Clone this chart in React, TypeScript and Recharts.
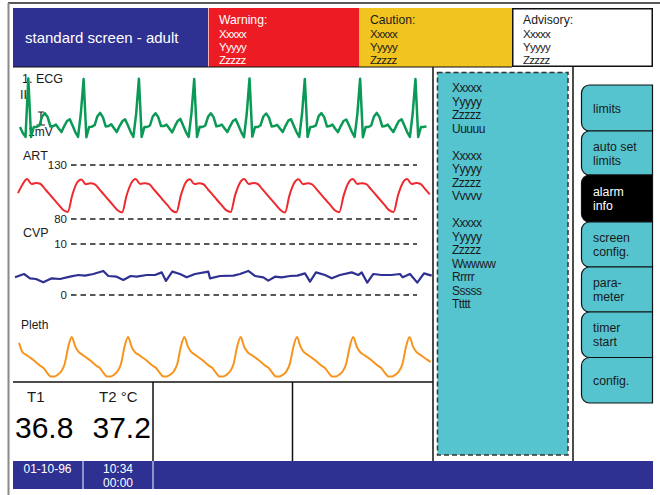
import React from "react";
import { LineChart, Line, XAxis, YAxis, ReferenceLine } from "recharts";

// ─── Waveform samples ─────────────────────────────────────────────────────────

// ECG lead II, mV, one sample every ~2.8 px of sweep
const ecgMillivolts = [
  0.0, -0.2, -0.33,
  1.62, -0.33, 0.0, 0.0, 0.05, 0.35, 0.46, 0.33, 0.02, 0.03, 0.08, -0.05, -0.17, 0.03, 0.2, 0.26, 0.05, -0.17, -0.33, 0.45,
  1.6, -0.34, 0.0, 0.01, 0.06, 0.36, 0.47, 0.32, 0.02, 0.03, 0.09, -0.04, -0.17, 0.03, 0.19, 0.26, 0.06, -0.16, -0.33, 0.44,
  1.61, -0.33, 0.0, 0.0, 0.05, 0.35, 0.46, 0.33, 0.03, 0.03, 0.08, -0.05, -0.18, 0.02, 0.2, 0.27, 0.05, -0.17, -0.33, 0.46,
  1.6, -0.33, 0.01, 0.0, 0.05, 0.34, 0.46, 0.33, 0.02, 0.04, 0.08, -0.05, -0.17, 0.03, 0.2, 0.26, 0.05, -0.17, -0.34, 0.45,
  1.62, -0.32, 0.0, 0.0, 0.06, 0.35, 0.45, 0.32, 0.02, 0.03, 0.07, -0.05, -0.17, 0.03, 0.21, 0.26, 0.04, -0.17, -0.33, 0.45,
  1.6, -0.33, 0.0, 0.01, 0.05, 0.36, 0.46, 0.33, 0.02, 0.03, 0.08, -0.06, -0.17, 0.03, 0.2, 0.25, 0.05, -0.16, -0.33, 0.44,
  1.61, -0.34, 0.0, 0.0, 0.05, 0.35, 0.47, 0.33, 0.02, 0.03, 0.08, -0.05, -0.17, 0.02, 0.2, 0.26, 0.05, -0.17, -0.33, 0.45,
  1.6, -0.33, 0.0, 0.0, 0.02,
];

// Arterial pressure, mmHg
const artMmHg = [
  104, 112,
  117, 112.4, 113.3, 112.4, 107.6, 102.8, 97.9, 93.1, 88.3, 86.5, 102.2, 113.3,
  116.5, 112.2, 113, 112, 107.4, 102.5, 97.7, 92.9, 88.1, 86, 101.8, 113,
  117, 112.5, 113.2, 112.3, 107.5, 102.7, 97.8, 93, 88, 86.2, 102, 113.4,
  116.8, 112.3, 113.1, 112.2, 107.3, 102.6, 97.6, 92.8, 88.2, 86.4, 102.3, 113.2,
  117, 112.4, 113.3, 112.4, 107.6, 102.8, 97.9, 93.1, 88.3, 86, 101.9, 113,
  116.7, 112.2, 113, 112.1, 107.5, 102.6, 97.8, 93, 88.1, 86.3, 102.1, 113.3,
  117, 112.4, 113.2, 112.3, 107.6, 102.8, 97.9, 93.1, 88.2, 86.5, 102.2, 113.2,
  117, 112.4, 113.3, 112.4, 107.6, 102.8,
];
const artTicks = [80, 130];

// Central venous pressure, mmHg, irregular sample times
const cvpTimes = [
  0, 9, 15, 21, 28.3, 36.7, 45, 55, 63.3, 70, 78.3, 88.3, 93.3, 101.7, 108.3,
  115.7, 121.7, 131.7, 140, 146.7, 151, 157.3, 165, 171.7, 180, 193.3, 195, 205,
  218.3, 225, 233.3, 240, 248.3, 253.3, 260, 266.7, 275, 282.3, 290, 295, 301,
  310, 316.7, 325, 336.7, 343.3, 346.7, 352.3, 358.3, 366.7, 376.7, 385, 387.7,
  395, 402.3, 409, 416.7,
];
const cvpMmHg = [
  3.47, 4.12, 3.27, 3.14, 2.48, 3.27, 3.14, 3.59, 3.92, 3.79, 4.12, 4.71, 3.73,
  3.59, 2.94, 3.73, 3.59, 3.92, 3.92, 4.44, 2.75, 4.58, 4.12, 3.46, 4.12, 4.58,
  3.27, 3.73, 3.79, 4.12, 4.71, 3.73, 3.46, 2.81, 3.59, 3.46, 3.73, 3.79, 4.25,
  2.61, 4.44, 3.92, 3.27, 3.92, 4.44, 3.92, 4.44, 2.42, 4.12, 3.92, 3.92, 4.12,
  3.46, 4.12, 2.42, 4.25, 3.79,
];
const cvpTicks = [0, 10];

// Plethysmograph, % of pulse amplitude
const plethPercent = [
  85, 61.4, 55.1, 48.7, 42.4, 34.8, 27.2, 21, 9, 0, 0, 4.3, 12.9, 32.2, 75.4,
  100, 75.4, 61.4, 55.1, 48.7, 42.4, 34.8, 27.2, 21, 9, 0, 0, 4.3, 12.9, 32.2, 75.4,
  100, 75, 61, 55, 48.5, 42.2, 34.6, 27, 20.8, 9, 0, 0, 4.5, 13, 32, 75,
  100, 75.4, 61.4, 55.1, 48.7, 42.4, 34.8, 27.2, 21, 9, 0, 0, 4.3, 12.9, 32.2, 75.4,
  100, 75.2, 61.2, 55, 48.6, 42.3, 34.7, 27.1, 21, 9.2, 0, 0, 4.2, 12.8, 32.4, 75.5,
  100, 75.4, 61.4, 55.1, 48.7, 42.4, 34.8, 27.2, 21, 9, 0, 0, 4.3, 12.9, 32.2, 75.4,
  100, 75.3, 61.3, 55, 48.6, 42.4, 34.8, 27.2, 21, 9, 0, 0, 4.4, 13, 32.3, 75.2,
  100, 75.4, 61.4, 55.1, 48.7, 42.4, 36.5,
];

// ─── Screen texts ─────────────────────────────────────────────────────────────

const alarmTitles = ["Warning:", "Caution:", "Advisory:"];
const alarmLines = ["Xxxxx", "Yyyyy", "Zzzzz"];
const infoLines = [
  "Xxxxx", "Yyyyy", "Zzzzz", "Uuuuu", "",
  "Xxxxx", "Yyyyy", "Zzzzz", "Vvvvv", "",
  "Xxxxx", "Yyyyy", "Zzzzz", "Wwwww", "Rrrrr", "Sssss", "Ttttt",
];
const menuLabels = [
  ["limits"],
  ["auto set", "limits"],
  ["alarm", "info"],
  ["screen", "config."],
  ["para-", "meter"],
  ["timer", "start"],
  ["config."],
];
const tempLabels = ["T1", "T2 °C"];
const tempValues = ["36.8", "37.2"];

// ─── Colours & layout ─────────────────────────────────────────────────────────

const FONT = '"Liberation Sans", Arial, Helvetica, sans-serif';
const NAVY = "#2e3192";
const RED = "#ed1c24";
const YELLOW = "#f2c420";
const CYAN = "#55c4cf";
const INK = "#1a1a1a";

const ALARM_BOXES = [
  { x: 208, w: 151, fill: RED, ink: "#fff" },
  { x: 359, w: 153, fill: YELLOW, ink: INK },
  { x: 512, w: 141, fill: "#fff", ink: INK },
];
const TAB_TOPS = [85, 131, 175, 222, 267, 312, 357.5, 403];
const ACTIVE_TAB = 2;

type Box = { x: number; y: number; w: number; h: number };
const PAD = 6;

function Wave({
  box,
  data,
  xKey,
  xDomain,
  yDomain,
  color,
  strokeWidth,
  curve,
}: {
  box: Box;
  data: { [k: string]: number }[];
  xKey: string;
  xDomain: [number, number];
  yDomain: [number, number];
  color: string;
  strokeWidth: number;
  curve: "linear" | "monotone";
}) {
  return (
    <div style={{ position: "absolute", left: box.x - PAD, top: box.y - PAD }}>
      <LineChart
        width={box.w + PAD * 2}
        height={box.h + PAD * 2}
        data={data}
        margin={{ top: PAD, right: PAD, bottom: PAD, left: PAD }}
      >
        <XAxis dataKey={xKey} type="number" domain={xDomain} hide />
        <YAxis type="number" domain={yDomain} hide />
        <Line
          type={curve}
          dataKey="v"
          stroke={color}
          strokeWidth={strokeWidth}
          strokeLinejoin="round"
          dot={false}
          isAnimationActive={false}
        />
      </LineChart>
    </div>
  );
}

// dashed limit lines with their numbers, drawn by the y axis
function Scale({ box, ticks }: { box: Box; ticks: number[] }) {
  const axisW = 40;
  return (
    <div style={{ position: "absolute", left: box.x - axisW, top: box.y - PAD }}>
      <LineChart
        width={axisW + box.w + PAD}
        height={box.h + PAD * 2}
        data={ticks.map((t) => ({ t }))}
        margin={{ top: PAD, right: PAD, bottom: PAD, left: 0 }}
      >
        <XAxis dataKey="t" hide />
        <YAxis
          type="number"
          width={axisW}
          domain={[ticks[0], ticks[ticks.length - 1]]}
          ticks={ticks}
          allowDataOverflow
          axisLine={false}
          tickLine={false}
          tickSize={0}
          tickMargin={4}
          tick={{ fill: INK, fontSize: 11.5, fontFamily: FONT }}
        />
        {ticks.map((t) => (
          <ReferenceLine
            key={t}
            y={t}
            stroke="#222"
            strokeWidth={1.5}
            strokeDasharray="5.5 4"
          />
        ))}
      </LineChart>
    </div>
  );
}

function tabPath(x: number, y: number, x2: number, h: number, r: number) {
  return `M${x + r},${y} H${x2} V${y + h} H${x + r} A${r},${r} 0 0 1 ${x},${y + h - r} V${y + r} A${r},${r} 0 0 1 ${x + r},${y} Z`;
}

export default function App() {
  const ecgData = ecgMillivolts.map((v, i) => ({ i, v }));
  const artData = artMmHg.map((v, i) => ({ i, v }));
  const cvpData = cvpTimes.map((t, k) => ({ t, v: cvpMmHg[k] }));
  const plethData = plethPercent.map((v, i) => ({ i, v }));

  return (
    <div
      style={{
        position: "absolute",
        left: 0,
        top: 0,
        width: 660,
        height: 495,
        background: "#fff",
        overflow: "hidden",
        fontFamily: FONT,
      }}
    >
      <svg width={660} height={495} style={{ position: "absolute", left: 0, top: 0 }} fontFamily={FONT}>
        {/* outer frame */}
        <line x1={8} y1={3} x2={660} y2={3} stroke="#222" strokeWidth={1.5} />
        <line x1={8.5} y1={3} x2={8.5} y2={495} stroke="#8a8a8a" strokeWidth={2} />

        {/* header */}
        <rect x={13} y={8} width={195} height={59} fill={NAVY} />
        <text x={25} y={43} fontSize={15} fill="#fff">standard screen - adult</text>
        {ALARM_BOXES.map((b, k) => (
          <g key={k}>
            <rect
              x={b.fill === "#fff" ? b.x + 0.75 : b.x}
              y={b.fill === "#fff" ? 8.75 : 8}
              width={b.fill === "#fff" ? b.w - 1.5 : b.w}
              height={b.fill === "#fff" ? 57.5 : 59}
              fill={b.fill}
              stroke={b.fill === "#fff" ? "#111" : "none"}
              strokeWidth={1.5}
            />
            <text x={b.x + 11} y={24} fontSize={12.2} fill={b.ink}>{alarmTitles[k]}</text>
            {alarmLines.map((s, j) => (
              <text key={j} x={b.x + 11} y={38 + j * 12.8} fontSize={11.5} letterSpacing={-0.7} fill={b.ink}>
                {s}
              </text>
            ))}
          </g>
        ))}
        <line x1={208.5} y1={8} x2={208.5} y2={67} stroke="#f6b0b0" strokeWidth={1} />
        <line x1={13} y1={67} x2={512} y2={67} stroke="#111" strokeWidth={1} />

        {/* panel borders */}
        <line x1={433} y1={67} x2={433} y2={461} stroke="#111" strokeWidth={1.5} />
        <line x1={573} y1={67} x2={573} y2={461} stroke="#111" strokeWidth={1.5} />
        <line x1={13} y1={382} x2={433} y2={382} stroke="#111" strokeWidth={1.5} />
        <line x1={153} y1={382} x2={153} y2={461} stroke="#111" strokeWidth={1.5} />
        <line x1={292.5} y1={382} x2={292.5} y2={461} stroke="#111" strokeWidth={1.5} />

        {/* alarm info panel */}
        <rect x={437.5} y={72.5} width={130.5} height={382.5} fill={CYAN} stroke="#333" strokeWidth={1.5} strokeDasharray="5 3" />
        {infoLines.map((s, n) =>
          s ? (
            <text key={n} x={452} y={92 + n * 13.5} fontSize={12} letterSpacing={-0.5} fill={INK}>
              {s}
            </text>
          ) : null,
        )}

        {/* menu tabs */}
        {menuLabels.map((lines, k) => {
          const top = TAB_TOPS[k];
          const h = TAB_TOPS[k + 1] - top;
          const mid = top + h / 2 + 4.5;
          const active = k === ACTIVE_TAB;
          return (
            <g key={k}>
              <path d={tabPath(581.5, top, 652.5, h, 8)} fill={active ? "#000" : CYAN} stroke="#111" strokeWidth={1.2} />
              {lines.map((s, j) => (
                <text
                  key={j}
                  x={593}
                  y={mid + (j - (lines.length - 1) / 2) * 14}
                  fontSize={12.3}
                  fill={active ? "#fff" : INK}
                >
                  {s}
                </text>
              ))}
            </g>
          );
        })}

        {/* waveform labels */}
        <text x={22} y={83.3} fontSize={12.5} fill={INK}>1. ECG</text>
        <text x={20} y={99.3} fontSize={12.5} fill={INK}>II</text>
        <text x={28} y={136} fontSize={12} fill={INK}>1mV</text>
        <path d="M38,112 H44 M41,112 V125 M36.5,125 H45" stroke="#222" strokeWidth={1.2} fill="none" />
        <text x={23} y={160} fontSize={12.5} fill={INK}>ART</text>
        <text x={23} y={237.3} fontSize={12.5} fill={INK}>CVP</text>
        <text x={21} y={329.3} fontSize={12} fill={INK}>Pleth</text>

        {/* temperatures */}
        {tempLabels.map((s, k) => (
          <text key={s} x={k === 0 ? 27 : 99} y={402} fontSize={15} fill={INK}>{s}</text>
        ))}
        {tempValues.map((s, k) => (
          <text key={s} x={k === 0 ? 15 : 92.5} y={438} fontSize={30} fill="#000">{s}</text>
        ))}

        {/* status bar */}
        <rect x={13} y={461} width={640} height={28} fill={NAVY} />
        <line x1={83} y1={461} x2={83} y2={489} stroke="#d6d6f2" strokeWidth={1.2} />
        <line x1={153} y1={461} x2={153} y2={489} stroke="#d6d6f2" strokeWidth={1.2} />
        <text x={47.5} y={473} fontSize={12} fill="#fff" textAnchor="middle">01-10-96</text>
        <text x={118} y={473} fontSize={12} fill="#fff" textAnchor="middle">10:34</text>
        <text x={118} y={486.5} fontSize={12} fill="#fff" textAnchor="middle">00:00</text>
      </svg>

      <Scale box={{ x: 71, y: 165, w: 346, h: 54 }} ticks={artTicks} />
      <Scale box={{ x: 71, y: 244, w: 346, h: 51 }} ticks={cvpTicks} />

      <Wave
        box={{ x: 19.7, y: 76, w: 406.5, h: 66 }}
        data={ecgData}
        xKey="i"
        xDomain={[0, ecgMillivolts.length - 1]}
        yDomain={[-0.5, 1.7]}
        color="#0a9a55"
        strokeWidth={2.5}
        curve="linear"
      />
      <Wave
        box={{ x: 17.95, y: 165, w: 411.75, h: 54 }}
        data={artData}
        xKey="i"
        xDomain={[0, artMmHg.length - 1]}
        yDomain={[80, 130]}
        color="#ee2a2e"
        strokeWidth={2}
        curve="monotone"
      />
      <Wave
        box={{ x: 15, y: 244, w: 416.7, h: 51 }}
        data={cvpData}
        xKey="t"
        xDomain={[0, 416.7]}
        yDomain={[0, 10]}
        color={NAVY}
        strokeWidth={2.2}
        curve="linear"
      />
      <Wave
        box={{ x: 18.9, y: 337.3, w: 411.7, h: 39.4 }}
        data={plethData}
        xKey="i"
        xDomain={[0, plethPercent.length - 1]}
        yDomain={[0, 100]}
        color="#f7941d"
        strokeWidth={2}
        curve="monotone"
      />
    </div>
  );
}
